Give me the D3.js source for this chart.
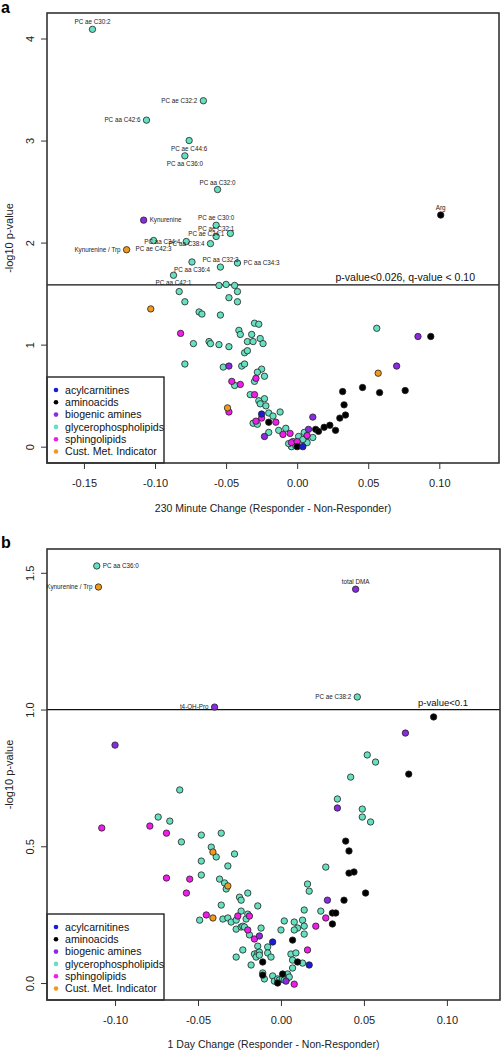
<!DOCTYPE html>
<html><head><meta charset="utf-8">
<script src="https://cdn.jsdelivr.net/npm/d3@7"></script>
<style>
body{margin:0;background:#fff}
text{font-family:"Liberation Sans",Arial,Helvetica,sans-serif}
</style>
</head><body>
<svg id="c" width="501" height="1050"></svg>
<script>
// ---------- shared ----------
const classes = ["acylcarnitines","aminoacids","biogenic amines","glycerophospholipids","sphingolipids","Cust. Met. Indicator"];
const classColors = ["#1c1cd8","#000000","#8a2be2","#66e0c0","#ee1ee8","#ef9a1c"];
const drawOrder = [3,4,2,5,1,0];

// ---------- panel a : 230 minute change ----------
const aXTicks = [-0.15,-0.10,-0.05,0.00,0.05,0.10];
const aYTicks = [0,1,2,3,4];
const aThreshold = 1.585;
const aThresholdText = "p-value<0.026, q-value < 0.10";
const aXTitle = "230 Minute Change (Responder - Non-Responder)";
const aAcyl = [[-0.025,0.32],[0.004,0.00]];
const aAmino = [[0.101,2.27,"Arg"],[-0.020,0.24],[0.000,0.00],[0.013,0.17],[0.015,0.15],[0.019,0.19],[0.023,0.21],[0.027,0.16],[0.030,0.28],[0.034,0.31],[0.033,0.41],[0.032,0.54],[0.046,0.58],[0.058,0.53],[0.076,0.55],[0.094,1.08]];
const aBiogenic = [[-0.108,2.22,"Kynurenine"],[-0.048,0.79],[-0.023,0.10],[0.008,0.17],[0.011,0.29],[0.070,0.79],[0.085,1.08]];
const aGlycero = [
 [-0.144,4.09,"PC ae C30:2"],[-0.066,3.39,"PC ae C32:2"],[-0.106,3.20,"PC aa C42:6"],[-0.076,3.00,"PC ae C44:6"],
 [-0.079,2.85,"PC aa C36:0"],[-0.056,2.52,"PC aa C32:0"],[-0.057,2.17,"PC ae C30:0"],[-0.057,2.06,"PC ae C32:1"],
 [-0.047,2.09,"PC ae C34:1"],[-0.078,2.01,"PC aa C34:4"],[-0.061,1.99,"PC aa C38:4"],[-0.101,2.02,"PC ae C42:3"],
 [-0.054,1.76,"PC aa C32:3"],[-0.042,1.80,"PC aa C34:3"],[-0.074,1.81,"PC aa C36:4"],[-0.087,1.68,"PC aa C42:1"],
 [-0.083,1.52],[-0.079,1.42],[-0.069,1.32],[-0.067,1.30],[-0.055,1.58],[-0.050,1.59],[-0.044,1.58],[-0.042,1.52],
 [-0.048,1.46],[-0.042,1.42],[-0.054,1.29],[-0.030,1.21],[-0.027,1.20],[-0.041,1.14],[-0.040,1.10],[-0.032,1.10],
 [-0.026,1.06],[-0.024,1.01],[-0.073,1.01],[-0.062,1.03],[-0.061,1.01],[-0.055,1.00],[-0.048,0.98],[-0.035,1.03],
 [-0.031,1.03],[-0.037,0.92],[-0.035,0.94],[-0.079,0.81],[-0.052,0.78],[-0.039,0.79],[-0.037,0.81],[-0.025,0.76],
 [-0.028,0.73],[-0.030,0.64],[-0.023,0.69],[-0.044,0.60],[-0.033,0.51],[-0.023,0.47],[-0.027,0.45],[-0.026,0.42],
 [-0.022,0.40],[-0.020,0.33],[-0.017,0.30],[-0.012,0.34],[-0.031,0.23],[-0.028,0.22],[-0.020,0.14],[-0.013,0.16],
 [-0.008,0.18],[0.056,1.16],[-0.004,0.00],[-0.003,0.05],[-0.001,0.01],[0.001,0.10],[0.002,0.02],[0.005,0.14],
 [0.006,0.07],[0.007,0.04],[0.011,0.09],[-0.006,0.03],[0.004,0.07]
];
const aSphingo = [[-0.082,1.11],[-0.046,0.64],[-0.040,0.61],[-0.048,0.34],[-0.029,0.67],[-0.030,0.51],[-0.025,0.28],[-0.015,0.24],[-0.029,0.25],[-0.010,0.12],[-0.005,0.13],[-0.004,0.04],[0.000,0.05],[0.007,0.11]];
const aCust = [[-0.120,1.93,"Kynurenine / Trp"],[-0.103,1.35],[-0.049,0.38],[0.057,0.72]];
const aLabelSide = {"PC ae C30:2":"above","PC ae C32:2":"left","PC aa C42:6":"left","PC ae C44:6":"below","PC aa C36:0":"below",
 "PC aa C32:0":"above","PC ae C30:0":"above","PC ae C32:1":"above","PC ae C34:1":"left","PC aa C34:4":"left","PC aa C38:4":"left",
 "PC ae C42:3":"below","PC aa C32:3":"above","PC aa C34:3":"right","PC aa C36:4":"below","PC aa C42:1":"below",
 "Kynurenine":"right","Kynurenine / Trp":"left","Arg":"above"};

// ---------- panel b : 1 day change ----------
const bXTicks = [-0.10,-0.05,0.00,0.05,0.10];
const bYTicks = [0.0,0.5,1.0,1.5];
const bThreshold = 1.0;
const bThresholdText = "p-value<0.1";
const bXTitle = "1 Day Change (Responder - Non-Responder)";
const bAcyl = [[-0.005,0.150],[0.017,0.066]];
const bAmino = [[0.092,0.973],[0.077,0.764],[0.039,0.519],[0.041,0.483],[0.041,0.402],[0.044,0.406],[0.051,0.329],[0.038,0.303],[0.031,0.256],[0.033,0.256],[0.031,0.216],[0.007,0.157],[-0.011,0.077],[0.010,0.077],[-0.011,0.029],[-0.002,0.000],[0.001,0.033]];
const bBiogenic = [[-0.040,1.009,"t4-OH-Pro"],[0.045,1.44,"total DMA"],[0.075,0.914],[-0.100,0.870],[0.034,0.640],[0.028,0.303],[-0.013,0.172],[0.003,0.007]];
const bGlycero = [
 [-0.111,1.525,"PC aa C36:0"],[0.046,1.046,"PC ae C38:2"],
 [0.052,0.834],[0.057,0.808],[0.042,0.753],[-0.061,0.706],[0.034,0.673],[0.049,0.636],[0.049,0.607],[0.054,0.589],
 [-0.074,0.607],[-0.067,0.592],[-0.048,0.541],[-0.036,0.548],[-0.060,0.516],[-0.042,0.497],[-0.039,0.461],[-0.028,0.472],
 [-0.048,0.446],[-0.032,0.428],[-0.048,0.395],[0.027,0.424],[-0.037,0.380],[-0.034,0.366],[-0.033,0.344],[0.016,0.362],
 [0.017,0.336],[-0.025,0.314],[-0.024,0.303],[-0.020,0.329],[-0.036,0.285],[-0.014,0.282],[0.014,0.267],[0.024,0.263],
 [-0.049,0.230],[-0.035,0.234],[-0.032,0.238],[-0.030,0.223],[-0.027,0.230],[-0.024,0.263],[-0.020,0.252],[-0.021,0.234],
 [0.002,0.227],[0.008,0.223],[0.010,0.201],[0.008,0.194],[0.013,0.230],[0.014,0.208],[0.014,0.179],[0.000,0.194],
 [-0.027,0.197],[-0.024,0.205],[-0.023,0.208],[-0.022,0.205],[-0.019,0.176],[-0.012,0.201],[-0.014,0.135],[-0.008,0.132],
 [-0.023,0.121],[-0.027,0.095],[-0.016,0.106],[-0.014,0.110],[-0.013,0.113],[-0.015,0.095],[-0.013,0.102],[-0.008,0.110],
 [-0.006,0.095],[-0.018,0.066],[0.006,0.106],[0.009,0.110],[0.007,0.084],[0.013,0.073],[0.007,0.055],[-0.011,0.037],
 [-0.010,0.015],[-0.005,0.026],[-0.004,0.007],[-0.002,0.015],[-0.001,0.011],[0.001,0.015],[0.004,0.018],[0.004,0.033],
 [0.005,0.022],[0.002,0.011]
];
const bSphingo = [[-0.108,0.567],[-0.079,0.574],[-0.069,0.548],[-0.069,0.384],[-0.055,0.380],[-0.057,0.329],[-0.045,0.249],[-0.026,0.245],[-0.019,0.245],[-0.020,0.194],[-0.016,0.161],[0.027,0.238],[0.021,0.208],[0.016,0.121],[0.008,-0.004]];
const bCust = [[-0.110,1.448,"Kynurenine / Trp"],[-0.041,0.479],[-0.032,0.355],[-0.041,0.238]];
const bLabelSide = {"PC aa C36:0":"right","Kynurenine / Trp":"left","t4-OH-Pro":"left","total DMA":"above","PC ae C38:2":"left"};

// ---------- drawing ----------
const svg = d3.select("#c");

function drawPanel(o){
  const x = d3.scaleLinear().domain(o.xDomain).range([o.left,o.right]);
  const y = d3.scaleLinear().domain(o.yDomain).range([o.bottom,o.top]);
  const g = svg.append("g");

  g.append("text").attr("x",1).attr("y",o.letterY).attr("font-size",16).attr("font-weight","bold").text(o.letter);

  const xa = g.append("g").attr("transform",`translate(0,${o.bottom})`)
    .call(d3.axisBottom(x).tickValues(o.xTicks).tickFormat(d3.format(".2f")).tickSize(6).tickPadding(10));
  const ya = g.append("g").attr("transform",`translate(${o.left},0)`)
    .call(d3.axisLeft(y).tickValues(o.yTicks).tickFormat(o.yFmt).tickSize(6));
  [xa,ya].forEach(a=>{
    a.select(".domain").remove();
    a.selectAll("line").attr("stroke","#333").attr("stroke-width",1);
    a.selectAll("text").attr("font-size",11).attr("fill","#222").attr("font-family",'"Liberation Sans",Arial,sans-serif');
  });
  xa.selectAll("text").text(d=>d3.format(".2f")(d).replace("−","-"));
  ya.selectAll("text").attr("transform","rotate(-90)").attr("x",0).attr("y",-13).attr("dy",0).attr("text-anchor","middle");

  g.append("text").attr("x",(o.left+o.right)/2).attr("y",o.xTitleY).attr("text-anchor","middle")
    .attr("font-size",10.5).attr("fill","#222").text(o.xTitle);
  g.append("text").attr("transform",`translate(13,${(o.top+o.bottom)/2}) rotate(-90)`).attr("text-anchor","middle")
    .attr("font-size",11).attr("fill","#222").text("-log10 p-value");

  g.append("line").attr("x1",o.left).attr("x2",o.right).attr("y1",y(o.threshold)).attr("y2",y(o.threshold))
    .attr("stroke","#111").attr("stroke-width",1.3);
  g.append("text").attr("x",o.threshTextX).attr("y",y(o.threshold)-4).attr("text-anchor","end")
    .attr("font-size",o.threshFont).attr("fill","#111").text(o.threshText);

  const pts = g.append("g");
  o.order.forEach(ci=>{
    pts.selectAll(null).data(o.series[ci]).enter().append("circle")
      .attr("cx",d=>x(d[0])).attr("cy",d=>y(d[1])).attr("r",3.2)
      .attr("fill",classColors[ci]).attr("stroke","#222").attr("stroke-width",0.8);
  });

  const lab = g.append("g").attr("font-size",6.3).attr("fill","#222");
  o.series.forEach(s=>s.filter(d=>d[2]).forEach(d=>{
    const px=x(d[0]), py=y(d[1]), side=o.sides[d[2]]||"right";
    const t = lab.append("text").text(d[2]);
    if(side==="left") t.attr("x",px-6).attr("y",py+2.2).attr("text-anchor","end");
    else if(side==="right") t.attr("x",px+6).attr("y",py+2.2).attr("text-anchor","start");
    else if(side==="above") t.attr("x",px).attr("y",py-5).attr("text-anchor","middle");
    else t.attr("x",px).attr("y",py+10).attr("text-anchor","middle");
  }));

  const lg = g.append("g");
  const lt = o.bottom-86;
  lg.append("rect").attr("x",o.left).attr("y",lt).attr("width",117).attr("height",86)
    .attr("fill","#fff").attr("stroke","#111").attr("stroke-width",1.3);
  classes.forEach((c,i)=>{
    const yy = lt+13+i*12.3;
    lg.append("circle").attr("cx",o.left+9).attr("cy",yy).attr("r",2.3).attr("fill",classColors[i]);
    lg.append("text").attr("x",o.left+18).attr("y",yy+3.7).attr("font-size",10.6).attr("fill","#111").text(c);
  });

  g.append("rect").attr("x",o.left).attr("y",o.top).attr("width",o.right-o.left).attr("height",o.bottom-o.top)
    .attr("fill","none").attr("stroke","#333").attr("stroke-width",1.6);
}

function byClass(ac,am,bi,gl,sp,cu){ return [ac,am,bi,gl,sp,cu]; }

drawPanel({
  letter:"a", letterY:13,
  left:47, right:499, top:13, bottom:463,
  xDomain:[-0.176,0.142], yDomain:[-0.16,4.25],
  xTicks:aXTicks, yTicks:aYTicks, yFmt:d3.format("d"),
  xTitle:aXTitle, xTitleY:512,
  threshold:aThreshold, threshText:aThresholdText, threshTextX:475, threshFont:10.5,
  series:byClass(aAcyl,aAmino,aBiogenic,aGlycero,aSphingo,aCust), order:drawOrder, sides:aLabelSide
});
drawPanel({
  letter:"b", letterY:548,
  left:47, right:500, top:549, bottom:1000,
  xDomain:[-0.141,0.132], yDomain:[-0.062,1.587],
  xTicks:bXTicks, yTicks:bYTicks, yFmt:d3.format(".1f"),
  xTitle:bXTitle, xTitleY:1048,
  threshold:bThreshold, threshText:bThresholdText, threshTextX:468, threshFont:9.5,
  series:byClass(bAcyl,bAmino,bBiogenic,bGlycero,bSphingo,bCust), order:drawOrder, sides:bLabelSide
});
</script>
</body></html>
